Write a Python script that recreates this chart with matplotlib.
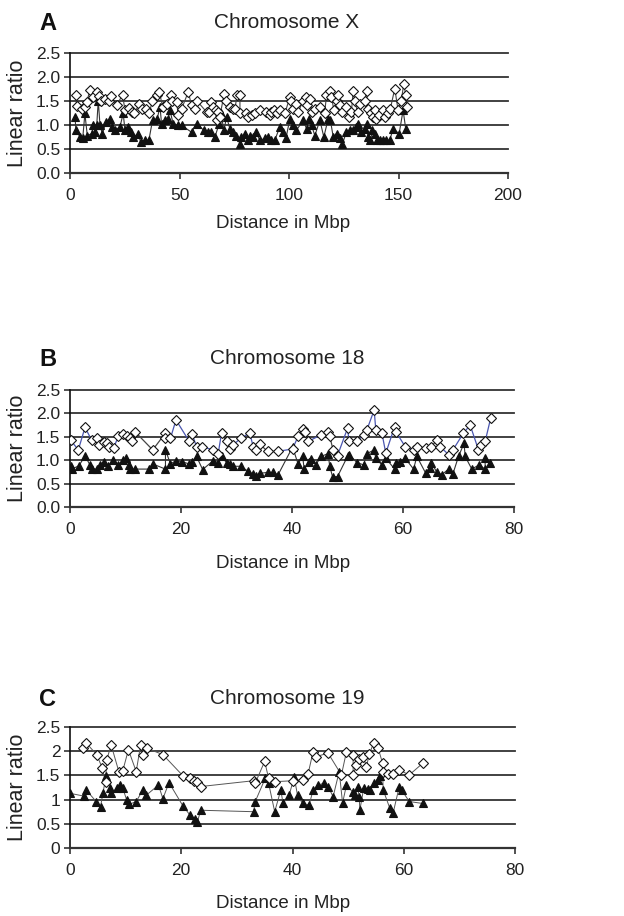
import numpy as np
import matplotlib.pyplot as plt
from matplotlib.collections import LineCollection

plt.rcParams['font.family'] = ['Liberation Sans', 'DejaVu Sans']

# --- Panel A: Chromosome X ---
a_dia_x = [2.7, 3.0, 5.3, 6.8, 7.6, 9.1, 10.3, 12.2, 13.2, 14.1, 16.0, 17.9, 18.7, 21.3, 24.0,
           25.1, 26.9, 28.1, 29.2, 31.6, 32.7, 34.7, 36.2, 37.6, 39.5, 40.8, 42.3, 44.1, 45.9,
           46.4, 48.7, 49.4, 51.0, 54.0, 55.5, 57.0, 57.8, 62.4, 63.6, 64.6, 65.4, 66.6, 66.9,
           67.7, 68.4, 70.4, 71.2, 73.0, 74.5, 75.3, 76.3, 77.6, 77.6, 80.3, 81.4, 82.9, 84.4,
           86.7, 89.4, 91.3, 92.0, 93.1, 94.3, 96.1, 98.1, 100.4, 101.1, 101.9, 103.1, 104.2,
           106.5, 107.7, 108.3, 109.5, 110.3, 111.8, 114.1, 116.3, 117.1, 118.6, 119.4, 120.5,
           121.7, 122.4, 123.2, 124.4, 126.2, 127.5, 128.5, 129.3, 130.0, 131.3, 132.3, 134.6,
           135.4, 136.1, 137.6, 138.4, 139.2, 139.9, 141.1, 142.7, 143.7, 145.2, 146.3, 148.3,
           149.8, 151.3, 152.4, 153.3, 153.9]
a_dia_y = [1.63, 1.39, 1.34, 1.37, 1.48, 1.72, 1.58, 1.69, 1.60, 1.51, 1.55, 1.51, 1.60, 1.41, 1.63,
           1.31, 1.36, 1.27, 1.24, 1.43, 1.34, 1.34, 1.24, 1.51, 1.62, 1.69, 1.38, 1.44, 1.62,
           1.51, 1.48, 1.20, 1.34, 1.69, 1.41, 1.34, 1.51, 1.27, 1.27, 1.48, 1.37, 1.31, 1.10,
           1.27, 1.17, 1.65, 1.51, 1.38, 1.34, 1.34, 1.62, 1.62, 1.24, 1.24, 1.17, 1.20, 1.24,
           1.31, 1.27, 1.20, 1.27, 1.31, 1.24, 1.31, 1.24, 1.58, 1.51, 1.34, 1.44, 1.27,
           1.51, 1.58, 1.41, 1.55, 1.27, 1.34, 1.38, 1.24, 1.62, 1.71, 1.58, 1.31,
           1.51, 1.63, 1.41, 1.27, 1.38, 1.17, 1.27, 1.71, 1.51, 1.27, 1.43, 1.51,
           1.71, 1.34, 1.24, 1.17, 1.31, 1.13, 1.20, 1.31, 1.17, 1.24, 1.34, 1.76,
           1.31, 1.51, 1.86, 1.62, 1.38]
a_tri_x = [2.3, 2.7, 4.6, 5.8, 6.8, 7.9, 9.9, 10.6, 11.4, 12.2, 12.9, 13.7, 14.8, 16.4, 18.3,
           19.0, 20.5, 22.8, 24.3, 25.1, 26.6, 27.8, 28.9, 31.2, 32.2, 34.2, 36.0, 37.7, 39.8,
           41.1, 41.8, 43.3, 44.9, 45.6, 47.1, 49.4, 51.0, 55.5, 57.8, 61.1, 63.1, 64.6, 66.2,
           68.1, 68.9, 70.3, 71.5, 73.0, 74.5, 76.0, 77.6, 78.3, 79.8, 81.4, 82.4, 83.7, 84.9,
           86.7, 89.0, 90.5, 92.0, 93.5, 95.8, 97.3, 98.6, 100.4, 101.6, 103.4, 106.5, 108.0,
           109.2, 110.3, 111.8, 114.1, 115.9, 117.9, 118.9, 120.2, 121.7, 123.2, 124.4, 126.2,
           127.8, 129.3, 130.8, 131.6, 133.1, 134.6, 135.4, 136.1, 137.2, 138.1, 139.2, 140.2,
           141.4, 143.0, 144.5, 146.0, 147.5, 150.3, 152.1, 153.3]
a_tri_y = [1.17, 0.89, 0.75, 0.72, 1.24, 0.78, 0.82, 0.99, 0.85, 0.99, 1.51, 0.99, 0.82, 1.06, 1.13,
           0.96, 0.89, 0.96, 1.24, 0.89, 0.96, 0.85, 0.75, 0.82, 0.65, 0.68, 0.68, 1.10, 1.13,
           1.38, 1.03, 1.10, 1.13, 1.31, 1.03, 0.99, 0.99, 0.85, 1.03, 0.89, 0.85, 0.85, 0.75,
           1.03, 1.24, 0.89, 1.17, 0.92, 0.85, 0.78, 0.61, 0.75, 0.82, 0.68, 0.78, 0.75, 0.85,
           0.68, 0.72, 0.75, 0.68, 0.68, 0.96, 0.85, 0.72, 1.13, 0.99, 0.89, 1.10, 0.92,
           1.13, 0.99, 0.78, 1.10, 0.75, 1.13, 1.10, 0.75, 0.82, 0.72, 0.61, 0.85,
           0.89, 0.89, 0.96, 1.03, 0.85, 0.92, 1.03, 0.75, 0.68, 0.89, 0.82, 0.68,
           0.68, 0.68, 0.68, 0.68, 0.92, 0.82, 1.31, 0.92]

# --- Panel B: Chromosome 18 ---
b_dia_x = [0.1, 1.5, 2.7, 3.9, 4.9, 5.3, 6.1, 6.7, 7.1, 7.9, 8.7, 9.6, 10.2, 10.8, 11.2, 11.7,
           14.9, 17.2, 17.2, 18.1, 19.1, 21.5, 22.0, 22.8, 23.8, 25.8, 26.7, 27.3, 28.2, 28.8,
           29.4, 30.8, 32.4, 33.0, 33.5, 34.2, 35.6, 37.5, 40.1, 41.1, 41.9, 42.3, 42.9, 45.2,
           46.5, 46.8, 47.4, 48.2, 50.0, 50.3, 51.7, 52.9, 53.5, 54.8, 55.1, 56.2, 56.9, 58.5,
           58.7, 60.4, 61.9, 62.5, 64.1, 65.1, 66.1, 66.7, 68.2, 69.0, 70.9, 72.1, 73.6, 74.0,
           74.8, 75.8]
b_dia_y = [1.43, 1.22, 1.70, 1.43, 1.47, 1.33, 1.38, 1.36, 1.29, 1.27, 1.51, 1.56, 1.51, 1.47,
           1.40, 1.61, 1.22, 1.58, 1.47, 1.47, 1.86, 1.40, 1.56, 1.29, 1.29, 1.22, 1.14, 1.58,
           1.40, 1.24, 1.33, 1.47, 1.58, 1.29, 1.22, 1.34, 1.19, 1.19, 1.24, 1.51, 1.66, 1.61,
           1.40, 1.54, 1.61, 1.51, 1.22, 1.10, 1.68, 1.40, 1.40, 1.54, 1.65, 2.07, 1.65, 1.58,
           1.15, 1.72, 1.61, 1.29, 1.22, 1.29, 1.26, 1.29, 1.43, 1.29, 1.12, 1.22, 1.58, 1.75,
           1.22, 1.33, 1.40, 1.90]
b_tri_x = [0.1, 0.3, 1.6, 2.7, 3.6, 3.9, 4.9, 5.4, 6.1, 6.9, 7.8, 8.7, 9.6, 10.1, 10.7, 10.9,
           11.7, 14.2, 14.9, 17.2, 17.2, 18.1, 19.1, 20.1, 21.5, 22.0, 22.8, 23.9, 25.8, 26.7,
           27.3, 28.2, 28.8, 29.4, 30.8, 32.1, 32.9, 33.6, 34.3, 35.6, 36.6, 37.5, 40.1, 41.1,
           41.9, 42.2, 43.1, 43.5, 44.3, 45.2, 46.5, 46.8, 47.3, 48.2, 50.0, 50.3, 51.7, 52.9,
           53.5, 54.8, 55.1, 56.2, 56.9, 58.5, 58.7, 59.5, 60.4, 61.9, 62.5, 64.1, 64.9, 65.1,
           66.1, 67.0, 68.2, 69.0, 70.0, 71.0, 71.2, 72.4, 73.7, 74.8, 74.8, 75.7]
b_tri_y = [0.87, 0.81, 0.88, 1.09, 0.90, 0.81, 0.81, 0.90, 0.97, 0.88, 1.01, 0.90, 1.01, 1.04,
           0.90, 0.81, 0.81, 0.81, 0.92, 0.81, 1.22, 0.92, 0.99, 0.97, 0.92, 0.97, 1.08, 0.80,
           0.99, 0.95, 1.08, 0.95, 0.92, 0.87, 0.87, 0.76, 0.71, 0.67, 0.72, 0.74, 0.74, 0.69,
           1.28, 0.92, 1.09, 0.81, 0.97, 1.02, 0.90, 1.08, 1.14, 0.87, 0.65, 0.65, 1.08, 1.12,
           0.95, 0.90, 1.14, 1.22, 1.04, 0.90, 1.04, 0.81, 0.95, 0.97, 1.04, 0.81, 1.08, 0.72,
           0.83, 0.95, 0.74, 0.69, 0.81, 0.71, 1.08, 1.36, 1.08, 0.81, 0.90, 0.81, 1.04, 0.95]

# --- Panel C: Chromosome 19 ---
c_dia_x = [2.4, 2.9, 4.8, 5.8, 6.4, 6.6, 7.4, 8.8, 9.5, 10.5, 11.9, 12.7, 13.2, 13.8, 16.7,
           20.4, 21.6, 22.3, 22.8, 23.5, 33.0, 33.3, 35.0, 35.7, 36.8, 40.1, 41.9, 42.8, 43.7,
           44.3, 46.4, 48.8, 49.7, 50.9, 50.9, 51.5, 52.0, 52.7, 53.3, 53.8, 54.6, 55.4, 56.2,
           56.3, 57.2, 58.1, 59.2, 61.0, 63.4]
c_dia_y = [2.06, 2.17, 1.93, 1.65, 1.36, 1.82, 2.13, 1.57, 1.60, 2.03, 1.58, 2.13, 1.93, 2.06,
           1.93, 1.48, 1.44, 1.39, 1.36, 1.27, 1.39, 1.34, 1.79, 1.44, 1.37, 1.39, 1.41, 1.53,
           1.99, 1.89, 1.96, 1.51, 1.99, 1.93, 1.51, 1.72, 1.84, 1.89, 1.68, 1.94, 2.17, 2.06,
           1.75, 1.58, 1.52, 1.52, 1.61, 1.51, 1.75]
c_tri_x = [0.0, 2.6, 2.9, 4.7, 5.5, 5.9, 6.5, 7.2, 7.4, 8.4, 8.9, 9.5, 10.2, 10.6, 11.9, 13.1,
           13.7, 15.9, 16.7, 17.8, 20.3, 21.5, 22.5, 22.9, 23.5, 33.0, 33.3, 35.1, 35.7, 36.8,
           37.9, 38.3, 39.4, 40.3, 40.9, 41.8, 43.0, 43.7, 44.6, 45.7, 46.4, 47.3, 48.4, 49.0,
           49.7, 50.8, 51.2, 51.7, 52.0, 52.1, 52.8, 53.5, 53.9, 54.6, 55.4, 55.7, 56.2, 56.3,
           57.5, 58.1, 59.2, 59.6, 61.0, 63.4]
c_tri_y = [1.13, 1.07, 1.20, 0.96, 0.85, 1.13, 1.48, 1.23, 1.13, 1.23, 1.30, 1.23, 0.99, 0.90,
           0.96, 1.20, 1.09, 1.30, 1.02, 1.35, 0.87, 0.69, 0.59, 0.54, 0.78, 0.75, 0.96, 1.44,
           1.34, 0.75, 1.20, 0.92, 1.09, 1.47, 1.09, 0.92, 0.89, 1.20, 1.30, 1.34, 1.27, 1.06,
           1.58, 0.93, 1.30, 1.16, 1.09, 1.27, 1.06, 0.78, 1.23, 1.21, 1.20, 1.34, 1.41, 1.48,
           1.58, 1.20, 0.82, 0.73, 1.27, 1.20, 0.96, 0.92]

y_ticks = [0.0, 0.5, 1.0, 1.5, 2.0, 2.5]
labels_decimal = ['0.0', '0.5', '1.0', '1.5', '2.0', '2.5']
labels_general = ['0', '0.5', '1', '1.5', '2', '2.5']

W, H = 624, 916
TXT = '#222222'
GRID = '#333333'


def fx(px):
    return px / W


def fy(py):
    return 1 - py / H


def panel(fig, left, top, right, bottom, xmax, xstep, ylabels):
    ax = fig.add_axes([fx(left), fy(bottom), fx(right - left), (bottom - top) / H])
    ax.set_xlim(0, xmax)
    ax.set_ylim(0, 2.5)
    ax.set_xticks(np.arange(0, xmax + 1, xstep))
    ax.set_yticks(y_ticks)
    ax.set_yticklabels(ylabels)
    for y in y_ticks[1:]:
        ax.axhline(y, color=GRID, lw=1.3, zorder=1, clip_on=False)
    ax.spines['top'].set_visible(False)
    ax.spines['right'].set_visible(False)
    ax.spines['left'].set_color('#111111')
    ax.spines['left'].set_linewidth(1.2)
    ax.spines['bottom'].set_color('#333333')
    ax.spines['bottom'].set_linewidth(1.6)
    ax.tick_params(direction='out', length=4, width=1.1, color='#222222',
                   labelsize=12.5, labelcolor=TXT, pad=3)
    ax.tick_params(axis='x', pad=7)
    return ax


def series(ax, x, y, marker, ms, fill, line_color, lw):
    ax.plot(x, y, color=line_color, lw=lw, zorder=2)
    ax.plot(x, y, ls='none', marker=marker, ms=ms, mfc=fill, mec='#111111',
            mew=0.8, zorder=3)


def labels(fig, letter, title, ycenter, xlab_y, ylab_y):
    fig.text(fx(48), fy(ycenter), letter, fontsize=17, fontweight='bold',
             color='#111111', ha='center', va='center')
    fig.text(fx(287), fy(ycenter), title, fontsize=15, color=TXT,
             ha='center', va='center')
    fig.text(fx(283), fy(xlab_y), 'Distance in Mbp', fontsize=13.5, color=TXT,
             ha='center', va='center')
    fig.text(fx(18), fy(ylab_y), 'Linear ratio', fontsize=15.5, color=TXT,
             ha='center', va='center', rotation=90)


fig = plt.figure(figsize=(W / 100, H / 100), dpi=100)

# Panel A
ax = panel(fig, 70, 53, 508, 173, 200, 50, labels_decimal)
series(ax, a_tri_x, a_tri_y, '^', 5.8, '#111111', '#333333', 0.8)
series(ax, a_dia_x, a_dia_y, 'D', 5, 'white', '#444444', 0.8)
labels(fig, 'A', 'Chromosome X', 23, 223, 113)

# Panel B
ax = panel(fig, 70, 390, 514, 507, 80, 20, labels_decimal)
series(ax, b_tri_x, b_tri_y, '^', 5.8, '#111111', '#333333', 0.8)
gray_segments = {4, 5, 6, 7, 8, 10, 11, 14, 15, 16, 17, 27, 28, 33, 34, 35, 36,
                 41, 44, 45, 46, 54, 61, 62, 63, 64}
pts = np.column_stack([b_dia_x, b_dia_y])
segs = [pts[i:i + 2] for i in range(len(pts) - 1)]
cols = ['#444444' if i in gray_segments else '#4a56b0' for i in range(len(segs))]
ax.add_collection(LineCollection(segs, colors=cols, linewidths=0.9, zorder=2))
ax.plot(b_dia_x, b_dia_y, ls='none', marker='D', ms=5, mfc='white', mec='#111111',
        mew=0.8, zorder=3)
labels(fig, 'B', 'Chromosome 18', 359, 564, 448)

# Panel C
ax = panel(fig, 70, 727, 515, 848, 80, 20, labels_general)
series(ax, c_tri_x, c_tri_y, '^', 5.8, '#111111', '#555555', 0.7)
series(ax, c_dia_x, c_dia_y, 'D', 5, 'white', '#555555', 0.7)
labels(fig, 'C', 'Chromosome 19', 699, 903, 787)

fig.savefig('out.png', dpi=100)
